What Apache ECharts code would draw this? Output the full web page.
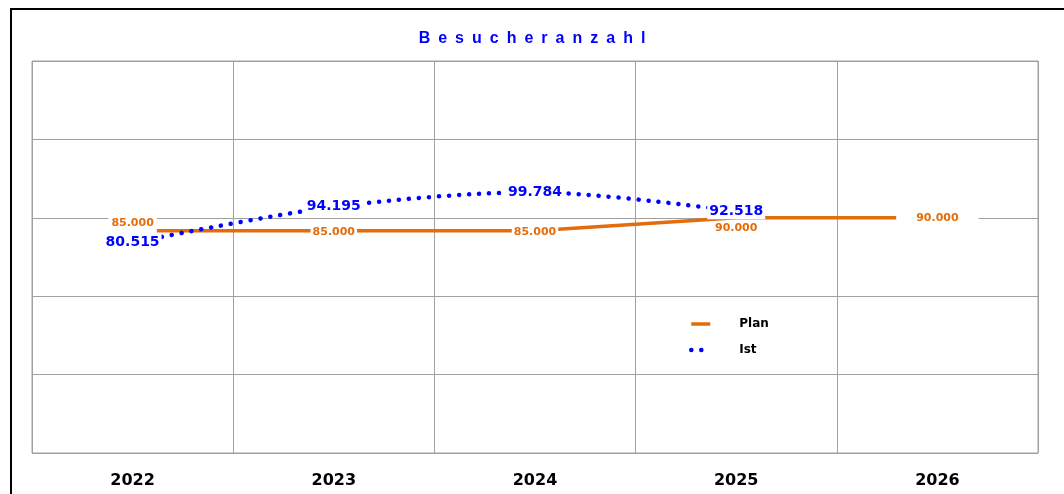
<!DOCTYPE html>
<html>
<head>
<meta charset="utf-8">
<script src="https://cdn.jsdelivr.net/npm/echarts@6/dist/echarts.min.js"></script>
<style>
  html, body { margin: 0; padding: 0; background: #fff; overflow: hidden; }
  #frame { position: absolute; left: 10px; top: 8px; width: 1100px; height: 520px; border-left: 2px solid #000; border-top: 2px solid #000; }
  #chart { position: absolute; left: 0; top: 0; width: 1064px; height: 494px; }
</style>
</head>
<body>
<div id="frame"></div>
<div id="chart"></div>
<script>
const years = ['2022', '2023', '2024', '2025', '2026']
const planValues = [85000, 85000, 85000, 90000, 90000]
const istValues = [80515, 94195, 99784, 92518, null]
const yTicks = { min: 0, max: 150000, interval: 30000 }

const orange = '#E46C0A'
const blue = '#0000FF'

// label placement for the Plan points (like the original)
const planLabelOffset = [[0, -8], [0, 1], [0, 1], [0, 10], [0, 0]]
const planLabelPadding = [[6, 3], [2, 2], [2, 2], [1, 2], [4, 20]]

function fmt (v) {
  return String(v).replace(/\B(?=(\d{3})+(?!\d))/g, '.')
}

// spaced-out title like the original
const titleText = 'Besucheranzahl'.split('').join('\u2002')

const myChart = echarts.init(document.getElementById('chart'))
myChart.setOption({
  backgroundColor: 'transparent',
  animation: false,
  title: {
    text: titleText,
    left: 'center',
    top: 26,
    textStyle: {
      fontFamily: 'Liberation Sans',
      fontSize: 16,
      fontWeight: 'bold',
      color: blue
    }
  },
  legend: {
    orient: 'vertical',
    left: 684,
    top: 313,
    itemWidth: 19,
    itemHeight: 14,
    itemGap: 14,
    selectedMode: false,
    itemStyle: { opacity: 0 },
    textStyle: {
      fontFamily: 'DejaVu Sans',
      fontSize: 12,
      fontWeight: 'bold',
      color: '#000',
      padding: [0, 0, 0, 24]
    },
    data: [
      { name: 'Plan', lineStyle: { width: 3.5 } },
      { name: 'Ist', lineStyle: { width: 4.5 } }
    ]
  },
  grid: {
    left: 32,
    right: 26,
    top: 61,
    bottom: 41,
    show: true,
    borderColor: '#A0A0A0',
    borderWidth: 1
  },
  xAxis: {
    type: 'category',
    data: years,
    boundaryGap: true,
    axisLine: { show: false },
    axisTick: { show: false },
    splitLine: { show: true, lineStyle: { color: '#A0A0A0', width: 1 } },
    axisLabel: {
      margin: 20,
      fontFamily: 'DejaVu Sans',
      fontSize: 16,
      fontWeight: 'bold',
      color: '#000'
    }
  },
  yAxis: {
    type: 'value',
    min: yTicks.min,
    max: yTicks.max,
    interval: yTicks.interval,
    axisLabel: { show: false },
    axisLine: { show: false },
    axisTick: { show: false },
    splitLine: { lineStyle: { color: '#A0A0A0', width: 1 } }
  },
  series: [
    {
      name: 'Plan',
      type: 'line',
      symbol: 'circle',
      symbolSize: 0.01,
      itemStyle: { color: orange },
      lineStyle: { color: orange, width: 3.5 },
      z: 2,
      data: planValues.map((v, i) => ({
        value: v,
        label: {
          show: true,
          position: 'inside',
          offset: planLabelOffset[i],
          padding: planLabelPadding[i],
          backgroundColor: '#fff',
          color: orange,
          fontFamily: 'DejaVu Sans',
          fontSize: 11,
          fontWeight: 'bold',
          formatter: p => fmt(p.value)
        }
      }))
    },
    {
      name: 'Ist',
      type: 'line',
      smooth: 0.3,
      symbol: 'circle',
      symbolSize: 0.01,
      itemStyle: { color: blue },
      lineStyle: { color: blue, width: 4.5, type: [0.1, 9.9], cap: 'round' },
      z: 3,
      label: {
        show: true,
        position: 'inside',
        padding: [1, 2],
        backgroundColor: '#fff',
        color: blue,
        fontFamily: 'DejaVu Sans',
        fontSize: 14,
        fontWeight: 'bold',
        formatter: p => fmt(p.value)
      },
      data: istValues
    }
  ]
})
</script>
</body>
</html>
